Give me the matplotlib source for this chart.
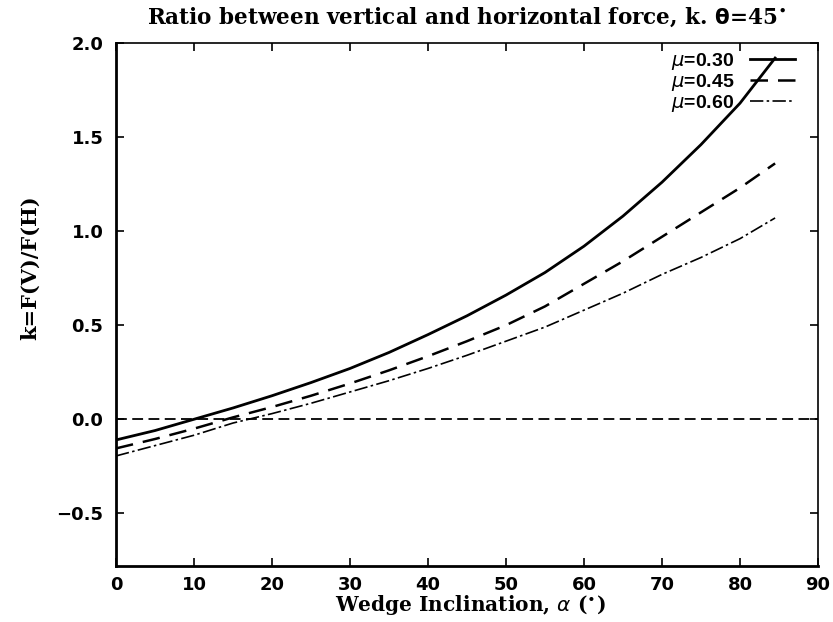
import matplotlib
matplotlib.use("Agg")
import matplotlib.pyplot as plt
import numpy as np

alpha = [0, 5, 10, 15, 20, 25, 30, 35, 40, 45, 50, 55, 60, 65, 70, 75, 80, 84.5]
k_mu030 = [-0.11, -0.06, 0.0, 0.06, 0.125, 0.195, 0.27, 0.355, 0.45, 0.55, 0.66, 0.78, 0.92, 1.08, 1.26, 1.46, 1.68, 1.92]
k_mu045 = [-0.155, -0.105, -0.05, 0.01, 0.065, 0.125, 0.19, 0.26, 0.335, 0.415, 0.5, 0.6, 0.72, 0.84, 0.97, 1.10, 1.23, 1.36]
k_mu060 = [-0.195, -0.14, -0.085, -0.02, 0.03, 0.085, 0.145, 0.205, 0.27, 0.34, 0.415, 0.49, 0.58, 0.67, 0.77, 0.86, 0.96, 1.07]
labels = [r"$\mu$=0.30", r"$\mu$=0.45", r"$\mu$=0.60"]
xticks = [0, 10, 20, 30, 40, 50, 60, 70, 80, 90]
yticks = [-0.5, 0.0, 0.5, 1.0, 1.5, 2.0]

fig = plt.figure(figsize=(8.33, 6.22), dpi=100)
ax = fig.add_axes([116/833, 1-566/622, (818-116)/833, (566-43)/622])

ax.axhline(0.0, color="black", lw=1.3, ls=(0, (6, 3)))
ax.plot(alpha, k_mu030, color="black", lw=2.0, ls="-", label=labels[0])
ax.plot(alpha, k_mu045, color="black", lw=1.8, ls=(0, (7, 4)), label=labels[1])
ax.plot(alpha, k_mu060, color="black", lw=1.2, ls=(0, (8, 2, 1.5, 2)), label=labels[2])

ax.set_xlim(0, 90)
ax.set_ylim(-0.78, 2.0)
ax.set_xticks(xticks)
ax.set_yticks(yticks)
tickfont = dict(fontfamily="DejaVu Sans", fontweight="bold", fontsize=13)
ax.set_xticklabels([str(v) for v in xticks], **tickfont)
ax.set_yticklabels([("\u22120.5" if v < 0 else f"{v:.1f}") for v in yticks], **tickfont)
ax.tick_params(direction="in", length=6, width=1.2, top=True, right=True)
ax.tick_params(axis="x", pad=7)
ax.tick_params(axis="y", pad=9)

for s in ["left", "bottom"]:
    ax.spines[s].set_linewidth(2.0)
for s in ["top", "right"]:
    ax.spines[s].set_linewidth(1.2)
    ax.spines[s].set_linestyle((0, (3, 1)))

font = dict(family="DejaVu Serif", weight="bold")
ax.set_title(r"Ratio between vertical and horizontal force, k. $\mathbf{\theta}$=45$^{\bullet}$",
             fontsize=15.5, pad=14, **font)
ax.set_xlabel(r"Wedge Inclination, $\alpha$ ($^{\bullet}$)", fontsize=14.5, **font)
ax.xaxis.set_label_coords(0.505, -0.051)
ax.set_ylabel("k=F(V)/F(H)", fontsize=15, **font)
ax.yaxis.set_label_coords(-0.108, 0.57)

leg = ax.legend(loc="upper right", bbox_to_anchor=(0.992, 1.018), frameon=False,
                markerfirst=False, handlelength=2.3, handletextpad=0.8, labelspacing=0.0,
                prop=dict(family="Liberation Sans", weight="bold", size=14))

fig.savefig("out.png", dpi=100)
